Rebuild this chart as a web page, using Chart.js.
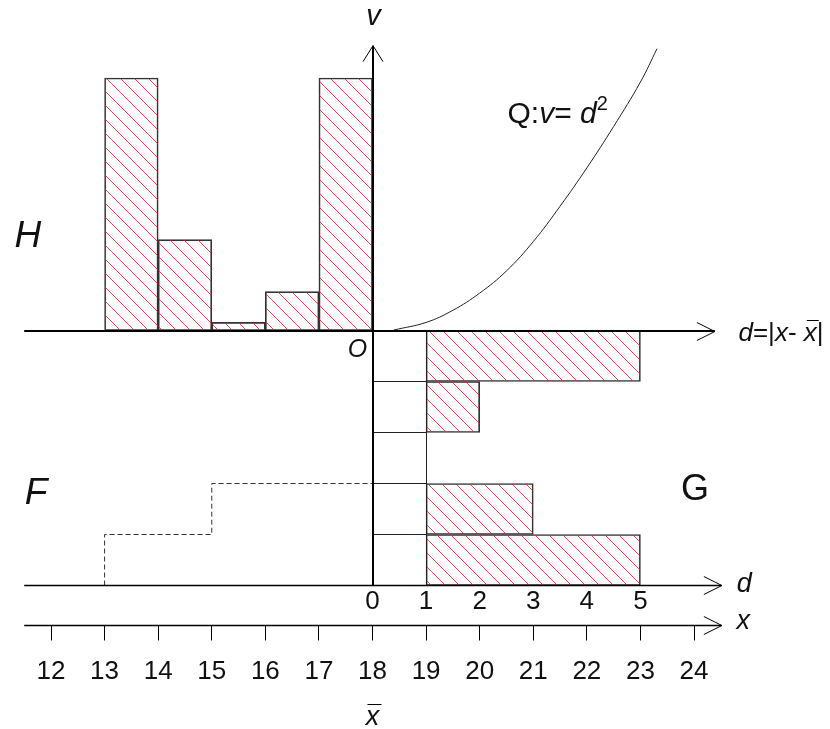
<!DOCTYPE html>
<html><head><meta charset="utf-8">
<script src="https://cdn.jsdelivr.net/npm/chart.js@4/dist/chart.umd.min.js"></script>
<style>html,body{margin:0;padding:0;background:#fff}canvas{display:block}</style>
</head><body>
<canvas id="c" width="830" height="729"></canvas>
<script>
// ---- data ----
const samples = [13, 15, 19, 20, 23];          // x values, mean 18
const xMean = 18;
const hBinCenters = [13.5, 14.5, 15.5, 16.5, 17.5];
const hValues = [25, 9, 0.8, 3.85, 25];        // H bars (v)
const gLevels = [0.1, 0.3, 0.5, 0.7, 0.9];     // G bar centres (F scale)
const gStart = 1;
const gEnds = [5, 3, 1, 2, 5];                 // d values
const gGrid = [0.2, 0.4, 0.6, 0.8];
const fX = [13, 13, 15, 15, 18];               // F dashed step
const fY = [0, 0.2, 0.2, 0.4, 0.4];
const curveD = [0.4, 1.0, 1.5, 2.0, 2.5, 3.0, 3.5, 4.0, 4.5, 5.0, 5.31];
const curveV = [0.05, 0.8, 2.0, 3.7, 5.9, 8.8, 12.3, 16.1, 20.2, 24.6, 27.9];
const xTicks = [12, 13, 14, 15, 16, 17, 18, 19, 20, 21, 22, 23, 24];
const dTicks = [0, 1, 2, 3, 4, 5];
const pTicks = [0, 0.2, 0.4, 0.6, 0.8, 1];

// ---- scale ranges ----
const X_MIN = 11.0482, X_MAX = 26.538;
const V_MIN = -39.455, V_MAX = 32.723;
const P_MIN = -0.5627, P_MAX = 2.2961;

const FONT = "'Liberation Sans', Arial, sans-serif";

const canvas = document.getElementById('c');
const ctx = canvas.getContext('2d');

function makeHatch() {
  const s = 14;
  const c = document.createElement('canvas');
  c.width = s; c.height = s;
  const g = c.getContext('2d');
  g.strokeStyle = 'rgba(208,50,50,0.85)';
  g.lineWidth = 1;
  g.beginPath();
  g.moveTo(-2, -2); g.lineTo(s + 2, s + 2);
  g.moveTo(-2, s - 2); g.lineTo(2, s + 2);
  g.moveTo(s - 2, -2); g.lineTo(s + 2, 2);
  g.stroke();
  return ctx.createPattern(c, 'repeat');
}
const hatch = makeHatch();

const axesPlugin = {
  id: 'axesDraw',
  afterDatasetsDraw(chart) {
    const c = chart.ctx, s = chart.scales;
    const X = v => s.x.getPixelForValue(v);
    const D = v => s.xd.getPixelForValue(v);
    const V = v => s.yv.getPixelForValue(v);
    const P = v => s.yp.getPixelForValue(v);
    const crisp = v => Math.round(v - 0.5) + 0.5;
    c.save();
    c.strokeStyle = '#000';
    c.lineCap = 'butt';
    const line = (x1, y1, x2, y2, w) => { c.lineWidth = w; c.beginPath(); c.moveTo(x1, y1); c.lineTo(x2, y2); c.stroke(); };
    const arrowR = (x, y) => { c.lineWidth = 1; c.beginPath(); c.moveTo(x - 18, y - 9); c.lineTo(x, y); c.lineTo(x - 18, y + 9); c.stroke(); };
    const arrowU = (x, y) => { c.lineWidth = 1; c.beginPath(); c.moveTo(x - 10, y + 16); c.lineTo(x, y); c.lineTo(x + 10, y + 16); c.stroke(); };

    // G guide lines
    c.strokeStyle = '#222';
    gGrid.forEach(p => line(D(0), crisp(P(p)), D(gStart), crisp(P(p)), 1));
    line(crisp(D(gStart)), P(0), crisp(D(gStart)), P(1), 1);
    c.strokeStyle = '#000';

    const left = X(11.5);
    // top d axis
    const yTop = Math.round(V(0));
    line(left, yTop, D(6.39), yTop, 2);
    arrowR(D(6.39), yTop + 0.5);
    // v axis
    const xv = Math.round(D(0));
    line(xv, P(0), xv, V(28.2), 2);
    arrowU(xv, V(28.2));
    // lower d axis
    const yd = crisp(P(0));
    line(left, yd, D(6.52), yd, 1.3);
    arrowR(D(6.52), yd);
    // x axis
    const yx = crisp(P(-0.155));
    line(left, yx, D(6.52), yx, 1.3);
    arrowR(D(6.52), yx);
    xTicks.forEach(t => line(crisp(X(t)), yx, crisp(X(t)), yx + 15, 1));

    // texts
    c.fillStyle = '#111';
    const txt = (str, x, y, font, align = 'center', base = 'middle') => {
      c.font = font; c.textAlign = align; c.textBaseline = base; c.fillText(str, x, y);
    };
    const R = sz => sz + 'px ' + FONT;
    const I = sz => 'italic ' + sz + 'px ' + FONT;

    xTicks.forEach(t => txt(String(t), X(t), P(-0.338), R(26)));
    dTicks.forEach(t => txt(String(t), D(t), P(-0.065), R(26)));

    txt('v', D(0.02), V(31.0), I(29));
    txt('H', X(11.57), V(9.26), I(37));
    txt('F', X(11.72), P(0.359), I(37));
    txt('G', X(24.02), P(0.3745), R(36));
    txt('O', D(-0.28), V(-1.93), I(25));
    txt('d', D(6.94), P(0.004), I(27));
    txt('x', X(24.92), P(-0.143), I(27));

    // x-bar under 18
    const xbx = X(18), xby = P(-0.546);
    txt('x', xbx, xby, I(27), 'center', 'alphabetic');
    line(xbx - 5, crisp(xby - 20), xbx + 9, crisp(xby - 20), 1);

    // rich text helper
    const rich = (segs, x, y) => {
      let cx = x;
      c.textAlign = 'left'; c.textBaseline = 'alphabetic';
      const pos = [];
      segs.forEach(sg => {
        c.font = sg.f;
        const dy = sg.dy || 0;
        c.fillText(sg.t, cx, y + dy);
        const w = c.measureText(sg.t).width;
        pos.push([cx, w]);
        cx += w;
      });
      return pos;
    };
    // Q: v = d^2
    rich([
      { t: 'Q:', f: R(30) }, { t: 'v', f: I(30) }, { t: '= ', f: R(30) }, { t: 'd', f: I(30) },
      { t: '2', f: R(20), dy: -13 }
    ], D(2.52), V(20.5));
    // d=|x- x̄|
    const pos = rich([
      { t: 'd', f: I(26) }, { t: '=|', f: R(26) }, { t: 'x', f: I(26) }, { t: '- ', f: R(26) },
      { t: 'x', f: I(26) }, { t: '|', f: R(26) }
    ], D(6.83), V(-1.04));
    const xb = pos[4];
    line(xb[0] + 3, crisp(V(-1.04) - 21), xb[0] + xb[1] + 2, crisp(V(-1.04) - 21), 1);

    c.restore();
  }
};

new Chart(ctx, {
  type: 'bar',
  data: {
    datasets: [
      {
        type: 'bar', label: 'H',
        data: hBinCenters.map((x, i) => ({ x: x, y: hValues[i] })),
        xAxisID: 'x', yAxisID: 'yv',
        backgroundColor: hatch, borderColor: '#333', borderWidth: 1, borderSkipped: false,
        barPercentage: 1, categoryPercentage: 1, grouped: false
      },
      {
        type: 'bar', label: 'G', indexAxis: 'y',
        data: gLevels.map((p, i) => ({ y: p, x: [gStart, gEnds[i]] })),
        xAxisID: 'xd', yAxisID: 'yp',
        backgroundColor: hatch, borderColor: '#333', borderWidth: 1, borderSkipped: false,
        barPercentage: 1, categoryPercentage: 1, grouped: false
      },
      {
        type: 'line', label: 'F',
        data: fX.map((x, i) => ({ x: x, y: fY[i] })),
        xAxisID: 'x', yAxisID: 'yp',
        borderColor: '#333', borderWidth: 1, borderDash: [5, 3], pointRadius: 0, fill: false, tension: 0
      },
      {
        type: 'line', label: 'Q',
        data: curveD.map((d, i) => ({ x: d, y: curveV[i] })),
        xAxisID: 'xd', yAxisID: 'yv',
        borderColor: '#222', borderWidth: 1, pointRadius: 0, fill: false,
        tension: 0.4
      }
    ]
  },
  options: {
    responsive: false,
    animation: false,
    events: [],
    layout: { padding: 0 },
    plugins: { legend: { display: false }, tooltip: { enabled: false }, title: { display: false } },
    scales: {
      x: { type: 'linear', axis: 'x', min: X_MIN, max: X_MAX, display: false, offset: false,
           afterBuildTicks: sc => { sc.ticks = xTicks.map(v => ({ value: v })); } },
      xd: { type: 'linear', axis: 'x', min: X_MIN - xMean, max: X_MAX - xMean, display: false, offset: false },
      yv: { type: 'linear', axis: 'y', min: V_MIN, max: V_MAX, display: false, offset: false },
      yp: { type: 'linear', axis: 'y', min: P_MIN, max: P_MAX, display: false, offset: false,
            afterBuildTicks: sc => { sc.ticks = pTicks.map(v => ({ value: v })); } }
    }
  },
  plugins: [axesPlugin]
});
</script>
</body></html>
